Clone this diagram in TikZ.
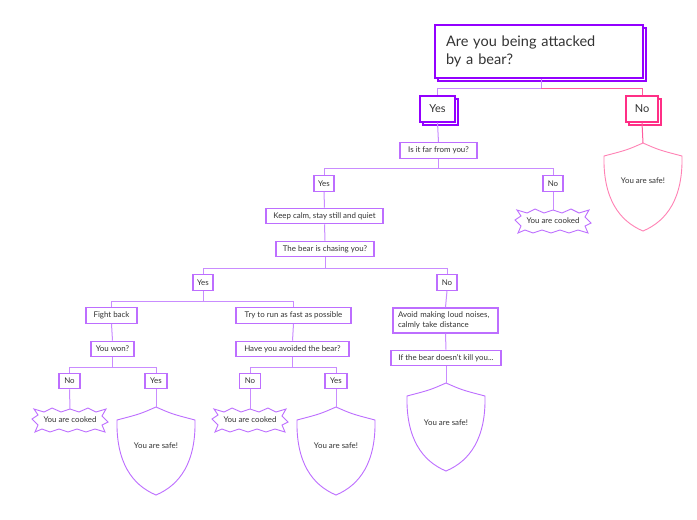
\documentclass[tikz,border=0pt]{standalone}
\usepackage{fontspec}
\setmainfont{Lato}
\usetikzlibrary{shadows}
\definecolor{boxc}{HTML}{BD6EFF}
\definecolor{linec}{HTML}{C98CFF}
\definecolor{rootc}{HTML}{9300FF}
\definecolor{pinkc}{HTML}{FF2F86}
\definecolor{pinkl}{HTML}{FF5C9E}
\definecolor{pinks}{HTML}{FF82B5}
\definecolor{txtc}{HTML}{333333}
\tikzset{
  conn/.style={draw=linec, line width=1pt},
  pconn/.style={draw=pinkl, line width=1pt},
  sbox/.style={draw=boxc, line width=1.1pt, fill=white, text=txtc, font=\fontsize{7.9}{9.5}\selectfont, inner sep=0pt, minimum height=15.5pt},
  bigbox/.style={line width=1.3pt, fill=white, text=txtc, font=\fontsize{11}{12}\selectfont, inner sep=0pt,
     minimum height=26pt, copy shadow={shadow xshift=3pt, shadow yshift=-3pt, draw=#1, fill=white, line width=1.3pt}, draw=#1},
  rootbox/.style={line width=1.6pt, draw=rootc, fill=white, text=txtc, font=\fontsize{14.5}{18}\selectfont,
     inner xsep=11pt, inner ysep=0pt, text width=186pt, align=left, minimum height=53pt,
     copy shadow={shadow xshift=3pt, shadow yshift=-3pt, draw=rootc, fill=white, line width=1.3pt}},
  lbl/.style={text=txtc, font=\fontsize{7.9}{9.5}\selectfont, inner sep=0pt},
  shield/.pic={\draw[#1, line width=0.9pt, fill=white] (0,0) .. controls (-16,7) .. (-39,13)
      .. controls (-40,55) and (-24,78) .. (0,88) .. controls (24,78) and (40,55) .. (39,13)
      .. controls (16,7) .. (0,0) -- cycle;},
  burst/.pic={\draw[boxc, line width=0.9pt, fill=white] (-36,-11) -- (-26,-8) -- (-18,-12) -- (-9,-8) -- (0,-11) -- (9,-8) -- (18,-12) -- (26,-8) -- (36,-11) -- (32,-4) -- (38,2) -- (32,5) -- (35,12) -- (25,9) -- (16,12) -- (7,9) -- (-2,12) -- (-11,9) -- (-20,12) -- (-28,9) -- (-35,12) -- (-32,5) -- (-38,-1) -- (-32,-5) -- cycle;}
}
\begin{document}
\begin{tikzpicture}[x=1pt,y=-1pt]
\useasboundingbox (0,0) rectangle (697,520);
\fill[white] (0,0) rectangle (697,520);

% top level
\node[rootbox] (root) at (539,51.5) {Are you being attacked\\by a bear?};
\node[bigbox=rootc, minimum width=35pt] (yes1) at (437.5,109) {Yes};
\node[bigbox=pinkc, minimum width=32pt] (no1) at (642,109) {No};
\coordinate (j0) at (541,88);
\draw[conn] (root.south -| j0) -- (j0) -| (yes1.north);
\draw[pconn] (j0) -| (no1.north);

% right: No -> safe
\pic at (643,143) {shield=pinks};
\coordinate (s1) at (643,143);
\node[lbl] (t1) at (643,181) {You are safe!};
\draw[pconn] (no1.south) -- (s1);

% Is it far
\node[sbox, minimum width=77pt] (far) at (438.5,150.5) {Is it far from you?};
\draw[conn] (yes1.south) -- (far.north);
\node[sbox, minimum width=20pt] (fyes) at (324,183.5) {Yes};
\node[sbox, minimum width=20pt] (fno) at (553,183.5) {No};
\draw[conn] (far.south) -- ++(0,10) -| (fyes.north);
\draw[conn] (far.south) -- ++(0,10) -| (fno.north);
\pic at (553,221) {burst};
\coordinate (b1) at (553,210);
\node[lbl] (c1) at (553,221) {You are cooked};
\draw[conn] (fno.south) -- (b1);

% keep calm
\node[sbox, minimum width=117pt] (calm) at (324.5,216) {Keep calm, stay still and quiet};
\node[sbox, minimum width=98pt] (chase) at (325,249) {The bear is chasing you?};
\draw[conn] (fyes.south) -- (calm.north);
\draw[conn] (calm.south) -- (chase.north);
\node[sbox, minimum width=20pt] (cyes) at (203,282.5) {Yes};
\node[sbox, minimum width=20pt] (cno) at (447,282.5) {No};
\draw[conn] (chase.south) -- ++(0,11) -| (cyes.north);
\draw[conn] (chase.south) -- ++(0,11) -| (cno.north);

% Yes branch
\node[sbox, minimum width=51pt] (fight) at (111.5,315.5) {Fight back};
\node[sbox, minimum width=115pt] (run) at (293.5,315.5) {Try to run as fast as possible};
\draw[conn] (cyes.south) -- ++(0,11) -| (fight.north);
\draw[conn] (cyes.south) -- ++(0,11) -| (run.north);

\node[sbox, minimum width=43pt] (won) at (112.5,349) {You won?};
\draw[conn] (fight.south) -- (won.north);
\node[sbox, minimum width=21pt] (wno) at (69.5,381) {No};
\node[sbox, minimum width=22pt] (wyes) at (156,381) {Yes};
\draw[conn] (won.south) -- ++(0,10) -| (wno.north);
\draw[conn] (won.south) -- ++(0,10) -| (wyes.north);
\pic at (70,420) {burst};
\coordinate (b2) at (70,409);
\node[lbl] (c2) at (70,420) {You are cooked};
\draw[conn] (wno.south) -- (b2);
\pic at (156,407) {shield=boxc};
\coordinate (s2) at (156,407);
\node[lbl] (t2) at (156,446) {You are safe!};
\draw[conn] (wyes.south) -- (s2);

\node[sbox, minimum width=113pt] (avoided) at (292.5,349) {Have you avoided the bear?};
\draw[conn] (run.south) -- (avoided.north);
\node[sbox, minimum width=21pt] (ano) at (250,381) {No};
\node[sbox, minimum width=22pt] (ayes) at (336,381) {Yes};
\draw[conn] (avoided.south) -- ++(0,10) -| (ano.north);
\draw[conn] (avoided.south) -- ++(0,10) -| (ayes.north);
\pic at (250,420) {burst};
\coordinate (b3) at (250,409);
\node[lbl] (c3) at (250,420) {You are cooked};
\draw[conn] (ano.south) -- (b3);
\pic at (336,407) {shield=boxc};
\coordinate (s3) at (336,407);
\node[lbl] (t3) at (336,446) {You are safe!};
\draw[conn] (ayes.south) -- (s3);

% No branch
\node[sbox, minimum width=105pt, minimum height=25pt, inner xsep=5pt, text width=95pt, align=left] (avoid) at (445.5,320.5) {Avoid making loud noises,\\calmly take distance};
\draw[conn] (cno.south) -- (avoid.north);
\node[sbox, minimum width=110pt] (ifbear) at (446,358) {If the bear doesn't kill you...};
\draw[conn] (avoid.south) -- (ifbear.north);
\pic at (446,383) {shield=boxc};
\coordinate (s4) at (446,383);
\node[lbl] (t4) at (446,423) {You are safe!};
\draw[conn] (ifbear.south) -- (s4);
\end{tikzpicture}
\end{document}
